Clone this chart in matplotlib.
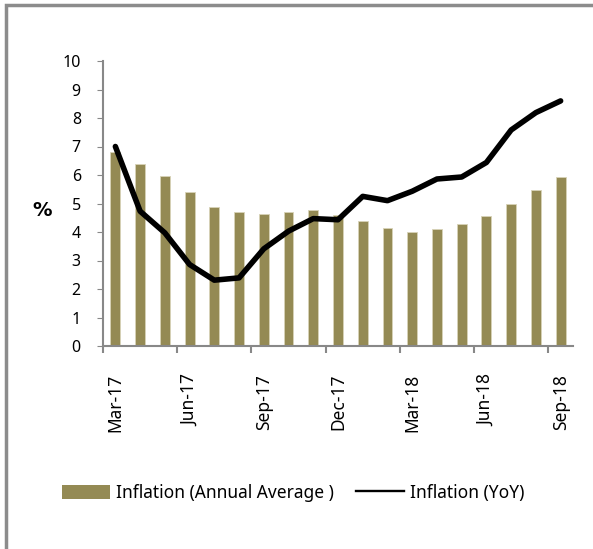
import matplotlib
matplotlib.use("Agg")
import matplotlib.pyplot as plt
import numpy as np
from matplotlib.patches import Rectangle, Patch
from matplotlib.lines import Line2D

months = ["Mar-17", "Apr-17", "May-17", "Jun-17", "Jul-17", "Aug-17", "Sep-17",
          "Oct-17", "Nov-17", "Dec-17", "Jan-18", "Feb-18", "Mar-18", "Apr-18",
          "May-18", "Jun-18", "Jul-18", "Aug-18", "Sep-18"]
annual_avg = [6.79, 6.39, 5.95, 5.41, 4.89, 4.69, 4.64, 4.69, 4.78, 4.61,
              4.39, 4.14, 4.01, 4.11, 4.28, 4.57, 5.00, 5.48, 5.93]
yoy = [7.00, 4.73, 3.97, 2.86, 2.31, 2.39, 3.41, 4.03, 4.47, 4.43,
       5.25, 5.10, 5.43, 5.86, 5.93, 6.44, 7.58, 8.19, 8.60]

plt.rcParams['font.family'] = ['Noto Sans', 'DejaVu Sans']
bar_color = "#948a54"

fig = plt.figure(figsize=(5.93, 5.49), dpi=100)
ax = fig.add_axes([103 / 593, 1 - 346 / 549, 470 / 593, 285 / 549])

x = np.arange(len(months))
ax.bar(x, annual_avg, width=0.4, color=bar_color, edgecolor="#d8d3b8",
       linewidth=0.6, zorder=2)
ax.plot(x, yoy, color="black", linewidth=4, solid_capstyle="round", zorder=3)

ax.set_xlim(-0.5, len(months) - 0.5)
ax.set_ylim(0, 10)
ax.set_yticks(range(0, 11))
ax.tick_params(axis="y", length=4, color="#888888", labelsize=11.5, pad=12)

# ticks at the category boundaries, labels under every third bar
ax.set_xticks(np.arange(-0.5, len(months) - 0.5, 3))
ax.set_xticklabels([])
ax.set_xticks(x[::3], minor=True)
ax.set_xticklabels(months[::3], minor=True, rotation=90, fontsize=12.5)
ax.tick_params(axis="x", which="major", length=5, color="#888888", width=1.5)
ax.tick_params(axis="x", which="minor", length=0, pad=20)

for side in ["top", "right"]:
    ax.spines[side].set_visible(False)
for side in ["left", "bottom"]:
    ax.spines[side].set_color("#888888")
    ax.spines[side].set_linewidth(1.5)

fig.text(42 / 593, 1 - 211 / 549, "%", fontsize=14, fontweight="bold",
         family="DejaVu Sans", ha="center", va="center")

handles = [Patch(facecolor=bar_color, edgecolor="none"),
           Line2D([0], [0], color="black", linewidth=1.7)]
fig.legend(handles, ["Inflation (Annual Average )", "Inflation (YoY)"],
           loc="center left", bbox_to_anchor=(62 / 593, 1 - 493 / 549), ncol=2,
           frameon=False, fontsize=12.5, handlelength=2.76, handleheight=0.9,
           columnspacing=1.3, handletextpad=0.35, borderpad=0, borderaxespad=0)

fig.add_artist(Rectangle((6 / 593, -0.1), 1.2, 1 - 5 / 549 + 0.1,
                         transform=fig.transFigure, fill=False,
                         edgecolor="#8c8c8c", linewidth=2.5))

fig.savefig("out.png", dpi=100)
